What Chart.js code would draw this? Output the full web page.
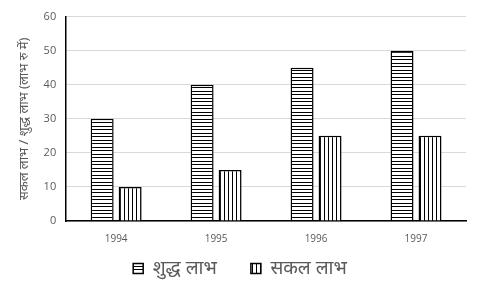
<!DOCTYPE html>
<html>
<head>
<meta charset="utf-8">
<script src="https://cdn.jsdelivr.net/npm/chart.js@4"></script>
<style>
  html, body { margin: 0; padding: 0; background: #fff; }
  #wrap { width: 480px; height: 288px; }
</style>
</head>
<body>
<div id="wrap"><canvas id="chart" width="480" height="288"></canvas></div>
<script>
const years = ['1994', '1995', '1996', '1997'];
const netProfit = [30, 40, 45, 50];     // शुद्ध लाभ
const grossProfit = [10, 15, 25, 25];   // सकल लाभ
const yTicks = [0, 10, 20, 30, 40, 50, 60];

const textColor = '#595959';
const hindiFont = "'Noto Sans', 'Noto Sans Devanagari', 'Lohit Devanagari', 'DejaVu Sans', sans-serif";

// striped fills
function stripes(horizontal) {
    const c = document.createElement('canvas');
    const x = c.getContext('2d');
    if (horizontal) {
        c.width = 4; c.height = 7;
        x.fillStyle = '#fff'; x.fillRect(0, 0, 4, 7);
        x.fillStyle = '#000';
        x.fillRect(0, 0, 4, 1);
        x.fillRect(0, 3, 4, 1);
    } else {
        c.width = 4; c.height = 4;
        x.fillStyle = '#fff'; x.fillRect(0, 0, 4, 4);
        x.fillStyle = '#000';
        x.fillRect(0, 0, 1, 4);
    }
    return x.createPattern(c, 'repeat');
}

// legend keeps a wide gap between items but a short box height
const LEGEND_H = 39, LEGEND_TOP = 10;
const legendTweak = {
    id: 'legendTweak',
    afterInit(c) {
        const lg = c.legend;
        const fit = lg.fit, draw = lg.draw;
        lg.fit = function () { fit.call(this); this.height = LEGEND_H; };
        lg.draw = function () {
            const t = this.top;
            this.top = t - (this.options.labels.padding - LEGEND_TOP);
            draw.call(this);
            this.top = t;
        };
    }
};

const chart = document.querySelector('#chart').getContext('2d');

new Chart(chart, {
    type: 'bar',
    plugins: [legendTweak],
    data: {
        labels: years,
        datasets: [
            {
                label: 'शुद्ध लाभ',
                data: netProfit,
                backgroundColor: stripes(true),
                borderColor: '#000',
                borderWidth: 1.5,
                categoryPercentage: 0.56,
                barPercentage: 0.82,
            },
            {
                label: 'सकल लाभ',
                data: grossProfit,
                backgroundColor: stripes(false),
                borderColor: '#000',
                borderWidth: 1.5,
                categoryPercentage: 0.56,
                barPercentage: 0.82,
            }
        ]
    },
    options: {
        responsive: false,
        animation: false,
        layout: { padding: { left: 14, right: 14, top: 2, bottom: 0 } },
        plugins: {
            legend: {
                position: 'bottom',
                labels: {
                    color: textColor,
                    font: { size: 19, family: hindiFont },
                    boxWidth: 10,
                    boxHeight: 10,
                    padding: 34,
                }
            },
            tooltip: { enabled: false }
        },
        scales: {
            x: {
                grid: { display: false },
                border: { color: '#000', width: 1.5 },
                ticks: { color: textColor, font: { size: 10, family: "'Open Sans', sans-serif" }, padding: 4 }
            },
            y: {
                min: 0,
                max: 60,
                afterBuildTicks: (axis) => { axis.ticks = yTicks.map(v => ({ value: v })); },
                grid: { color: '#d9d9d9', drawTicks: false },
                border: { color: '#000', width: 1.5 },
                ticks: { color: textColor, font: { size: 11, family: "'Open Sans', sans-serif" }, padding: 10 },
                title: {
                    display: true,
                    text: 'सकल लाभ / शुद्ध लाभ (लाभ रु में)',
                    color: textColor,
                    font: { size: 13, family: hindiFont },
                    padding: 2
                }
            }
        }
    }
})
</script>
</body>
</html>
